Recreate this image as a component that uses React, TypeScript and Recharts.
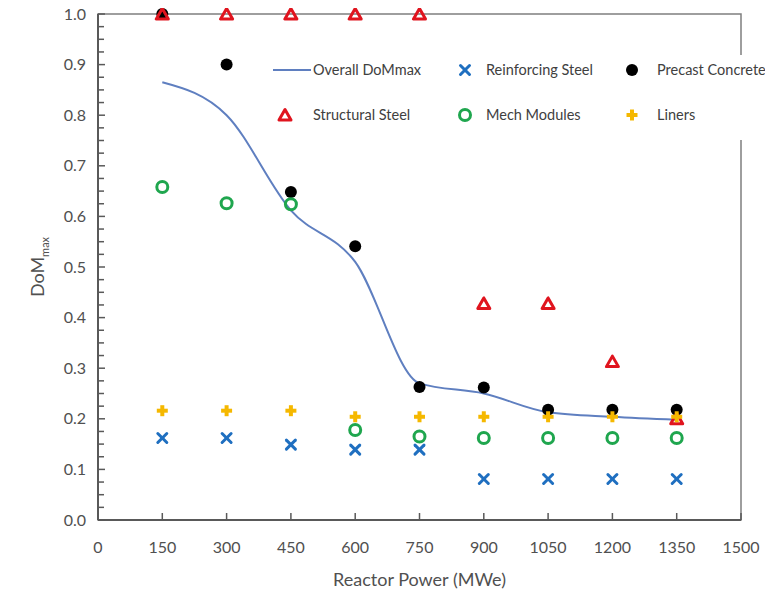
import React from 'react';
import { ComposedChart, Line, Scatter, XAxis, YAxis, Legend, ReferenceArea } from 'recharts';

// reactor power (MWe) for every series
const POWER = [150, 300, 450, 600, 750, 900, 1050, 1200, 1350];

const OVERALL = [0.865, 0.8, 0.612, 0.51, 0.27, 0.25, 0.213, 0.204, 0.198];
const REINFORCING = [0.162, 0.162, 0.149, 0.139, 0.139, 0.081, 0.081, 0.081, 0.081];
const PRECAST = [1.0, 0.9, 0.648, 0.541, 0.263, 0.262, 0.218, 0.218, 0.218];
const STRUCTURAL = [1.0, 1.0, 1.0, 1.0, 1.0, 0.428, 0.428, 0.313, 0.2];
const MECH = [0.658, 0.626, 0.624, 0.178, 0.165, 0.162, 0.162, 0.162, 0.162];
const LINERS = [0.216, 0.216, 0.216, 0.204, 0.204, 0.204, 0.204, 0.204, 0.204];

const X_TICKS = [0, 150, 300, 450, 600, 750, 900, 1050, 1200, 1350, 1500];
const Y_TICKS = [
  0, 0.025, 0.05, 0.075, 0.1, 0.125, 0.15, 0.175, 0.2, 0.225, 0.25, 0.275, 0.3, 0.325,
  0.35, 0.375, 0.4, 0.425, 0.45, 0.475, 0.5, 0.525, 0.55, 0.575, 0.6, 0.625, 0.65, 0.675,
  0.7, 0.725, 0.75, 0.775, 0.8, 0.825, 0.85, 0.875, 0.9, 0.925, 0.95, 0.975, 1,
];

const FONT = 'Lato, "Open Sans", sans-serif';
const TICK_COLOR = '#505050';
const AXIS_COLOR = '#595959';

// chart is pulled over the body margin so it spans the whole page
const W = 773;
const H = 597;
const MARGIN = { top: 14, right: 32, left: 48, bottom: 27 };
const Y_AXIS_W = 50;
const X_AXIS_H = 50;
const PLOT_LEFT = MARGIN.left + Y_AXIS_W;
const PLOT_BOTTOM = H - MARGIN.bottom - X_AXIS_H;

const toPoints = (ys: number[]) => POWER.map((x, i) => ({ x, y: ys[i] }));

const Cross = ({ cx, cy }: any) => (
  <g stroke="#1f6fc0" strokeWidth={3} strokeLinecap="round">
    <line x1={cx - 4.5} y1={cy - 4.5} x2={cx + 4.5} y2={cy + 4.5} />
    <line x1={cx - 4.5} y1={cy + 4.5} x2={cx + 4.5} y2={cy - 4.5} />
  </g>
);
const Dot = ({ cx, cy }: any) => <circle cx={cx} cy={cy} r={6} fill="#000" />;
const Tri = ({ cx, cy }: any) => (
  <polygon
    points={`${cx},${cy - 5.5} ${cx - 6},${cy + 5} ${cx + 6},${cy + 5}`}
    fill="none"
    stroke="#e0141e"
    strokeWidth={3}
    strokeLinejoin="round"
  />
);
const Ring = ({ cx, cy }: any) => (
  <circle cx={cx} cy={cy} r={5.5} fill="none" stroke="#1fa64e" strokeWidth={3} />
);
const Plus = ({ cx, cy }: any) => (
  <g stroke="#f5b800" strokeWidth={4}>
    <line x1={cx - 5.5} y1={cy} x2={cx + 5.5} y2={cy} />
    <line x1={cx} y1={cy - 5.5} x2={cx} y2={cy + 5.5} />
  </g>
);

const YTick = (props: any) => {
  const { y, payload } = props;
  const v = payload.value;
  const major = Math.abs(v * 10 - Math.round(v * 10)) < 1e-6;
  return (
    <g>
      <line x1={PLOT_LEFT} x2={PLOT_LEFT + (major ? 7 : 6)} y1={y} y2={y} stroke={AXIS_COLOR} strokeWidth={1.5} />
      {major && (
        <text x={PLOT_LEFT - 12} y={y} dy="0.35em" textAnchor="end" fill={TICK_COLOR} fontSize={16} fontFamily={FONT}>
          {v.toFixed(1)}
        </text>
      )}
    </g>
  );
};

const XTick = (props: any) => {
  const { x, payload } = props;
  return (
    <g>
      <line x1={x} x2={x} y1={PLOT_BOTTOM} y2={PLOT_BOTTOM - 7} stroke={AXIS_COLOR} strokeWidth={1.5} />
      <text x={x} y={PLOT_BOTTOM + 27} dy="0.35em" textAnchor="middle" fill={TICK_COLOR} fontSize={16} fontFamily={FONT}>
        {payload.value}
      </text>
    </g>
  );
};

const YTitle = ({ viewBox }: any) => {
  const cx = viewBox.x - 4;
  const cy = viewBox.y + viewBox.height / 2;
  return (
    <text transform={`translate(${cx},${cy}) rotate(-90)`} textAnchor="middle" fill={TICK_COLOR} fontFamily={FONT} fontSize={18}>
      DoM
      <tspan fontSize={11} dy={5}>max</tspan>
    </text>
  );
};

const XTitle = ({ viewBox }: any) => (
  <text
    x={viewBox.x + viewBox.width / 2}
    y={PLOT_BOTTOM + 66}
    textAnchor="middle"
    fill={TICK_COLOR}
    fontFamily={FONT}
    fontSize={18}
  >
    Reactor Power (MWe)
  </text>
);

const LEGEND = [
  { name: 'Overall DoMmax', Shape: null, col: 0, row: 0 },
  { name: 'Reinforcing Steel', Shape: Cross, col: 1, row: 0 },
  { name: 'Precast Concrete', Shape: Dot, col: 2, row: 0 },
  { name: 'Structural Steel', Shape: Tri, col: 0, row: 1 },
  { name: 'Mech Modules', Shape: Ring, col: 1, row: 1 },
  { name: 'Liners', Shape: Plus, col: 2, row: 1 },
];
const COL_MARK = [20, 200, 367];
const COL_TEXT = [48, 221, 392];
const ROW_Y = [15, 60];

const LegendBox = () => (
  <div style={{ position: 'relative', width: 508, height: 85, background: '#fff', fontFamily: FONT }}>
    {LEGEND.map((it) => (
      <React.Fragment key={it.name}>
        <svg
          style={{ position: 'absolute', left: COL_MARK[it.col] - 20, top: ROW_Y[it.row] - 10 }}
          width={48}
          height={20}
        >
          {it.Shape ? (
            <it.Shape cx={20} cy={10} />
          ) : (
            <line x1={8} x2={46} y1={10} y2={10} stroke="#5f7fc0" strokeWidth={2} />
          )}
        </svg>
        <span
          style={{
            position: 'absolute',
            left: COL_TEXT[it.col],
            top: ROW_Y[it.row] - 10,
            lineHeight: '20px',
            fontSize: 14.5,
            color: '#404040',
            whiteSpace: 'nowrap',
          }}
        >
          {it.name}
        </span>
      </React.Fragment>
    ))}
  </div>
);

export default function App() {
  return (
    <div style={{ margin: '-8px 0 0 -8px', width: W, height: H }}>
      <ComposedChart width={W} height={H} margin={MARGIN}>
        <XAxis
          type="number"
          dataKey="x"
          domain={[0, 1500]}
          ticks={X_TICKS}
          interval={0}
          height={X_AXIS_H}
          axisLine={{ stroke: AXIS_COLOR, strokeWidth: 2 }}
          tickLine={false}
          tick={<XTick />}
          label={<XTitle />}
        />
        <YAxis
          type="number"
          dataKey="y"
          domain={[0, 1]}
          ticks={Y_TICKS}
          interval={0}
          width={Y_AXIS_W}
          axisLine={{ stroke: AXIS_COLOR, strokeWidth: 2 }}
          tickLine={false}
          tick={<YTick />}
          label={<YTitle />}
        />
        <ReferenceArea x1={0} x2={1500} y1={0} y2={1} fill="none" stroke="#7f7f7f" strokeWidth={1.5} ifOverflow="visible" />
        <Line
          name="Overall DoMmax"
          data={toPoints(OVERALL)}
          dataKey="y"
          type="monotone"
          stroke="#5f7fc0"
          strokeWidth={2}
          dot={false}
          isAnimationActive={false}
        />
        <Scatter name="Reinforcing Steel" data={toPoints(REINFORCING)} dataKey="y" shape={(p: any) => <Cross cx={p.cx} cy={p.cy} />} isAnimationActive={false} />
        <Scatter name="Precast Concrete" data={toPoints(PRECAST)} dataKey="y" shape={(p: any) => <Dot cx={p.cx} cy={p.cy} />} isAnimationActive={false} />
        <Scatter name="Structural Steel" data={toPoints(STRUCTURAL)} dataKey="y" shape={(p: any) => <Tri cx={p.cx} cy={p.cy} />} isAnimationActive={false} />
        <Scatter name="Mech Modules" data={toPoints(MECH)} dataKey="y" shape={(p: any) => <Ring cx={p.cx} cy={p.cy} />} isAnimationActive={false} />
        <Scatter name="Liners" data={toPoints(LINERS)} dataKey="y" shape={(p: any) => <Plus cx={p.cx} cy={p.cy} />} isAnimationActive={false} />
        <Legend
          layout="vertical"
          align="center"
          verticalAlign="middle"
          content={() => <LegendBox />}
          wrapperStyle={{ position: 'absolute', top: 55, left: 265, width: 508, height: 85 }}
        />
      </ComposedChart>
    </div>
  );
}
